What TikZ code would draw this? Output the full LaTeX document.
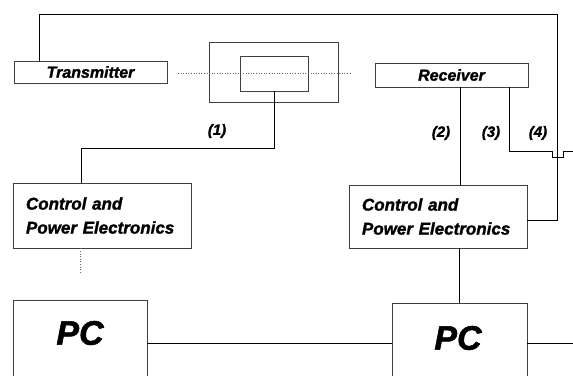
\documentclass[tikz,border=0pt]{standalone}
\usepackage{fontspec}
\setmainfont{Liberation Sans}[BoldItalicFeatures={FakeBold=1.5}]
\begin{document}
\begin{tikzpicture}[x=1pt,y=-1pt,
  every node/.style={font=\bfseries\itshape},
  box/.style={draw=black!75,line width=0.6pt,rectangle,inner sep=0pt},
  wire/.style={draw=black,line width=0.6pt},
  beam/.style={draw=black!60,line width=0.6pt,dotted},
  lbl/.style={font=\fontsize{15}{15}\selectfont\bfseries\itshape},
  ctlbox/.style={box,align=left,text width=152pt,inner xsep=13pt,minimum height=65pt,
     font=\fontsize{17}{24}\selectfont\bfseries\itshape},
  pcbox/.style={box},
  pctext/.style={font=\fontsize{34}{34}\selectfont\bfseries\itshape}]
\useasboundingbox (0,0) rectangle (573,375);
\clip (0,0) rectangle (573,375);
% boxes
\node[box,minimum width=153pt,minimum height=22pt,font=\fontsize{16}{16}\selectfont\bfseries\itshape] (tx) at (90.5,72) {Transmitter};
\node[box,minimum width=153pt,minimum height=24pt,font=\fontsize{16}{16}\selectfont\bfseries\itshape] (rx) at (451.5,75) {Receiver};
\node[box,minimum width=129pt,minimum height=60pt] (outer) at (273.5,72) {};
\node[box,minimum width=68pt,minimum height=35pt] (inner) at (274,73.5) {};
\node[ctlbox] (ctlL) at (102,215.5) {Control and\\Power Electronics};
\node[ctlbox,minimum height=63pt] (ctlR) at (438,216.5) {Control and\\Power Electronics};
\node[pcbox,minimum width=134pt,minimum height=100pt] (pcL) at (80,350) {};
\node[pcbox,minimum width=135pt,minimum height=97pt] (pcR) at (459.5,351.5) {};
\node[pctext] (pcLt) at (80,333) {PC};
\node[pctext] (pcRt) at (458,338) {PC};
% labels
\node[lbl] (l1) at (217,131) {(1)};
\node[lbl] (l2) at (441,133) {(2)};
\node[lbl] (l3) at (491,133) {(3)};
\node[lbl] (l4) at (538,133) {(4)};
% free ends
\coordinate (b1) at (178,73);
\coordinate (b2) at (350,73);
\coordinate (e3) at (573,151);
\coordinate (e5) at (573,343);
\coordinate (st) at (80,272);
% beam
\draw[beam] (b1) -- (b2);
% connectors
\draw[wire] (inner.south) |- (81,148) -- (ctlL.north -| 81,0);
\draw[wire] (tx.north -| 39,0) -- (39,14) -- (557,14) -- (557,220) -- (ctlR.east |- 0,220);
\draw[wire] (rx.south -| 460,0) -- (ctlR.north -| 460,0);
\draw[wire] (rx.south -| 509,0) |- (552,151) -- (552,157) -- (563,157) -- (563,151) -- (e3);
\draw[beam] (ctlL.south -| 80,0) -- (st);
\draw[wire] (ctlR.south -| 459,0) -- (pcR.north -| 459,0);
\draw[wire] (pcL.east |- 0,343) -- (pcR.west |- 0,343);
\draw[wire] (pcR.east |- 0,343) -- (e5);
\end{tikzpicture}
\end{document}
